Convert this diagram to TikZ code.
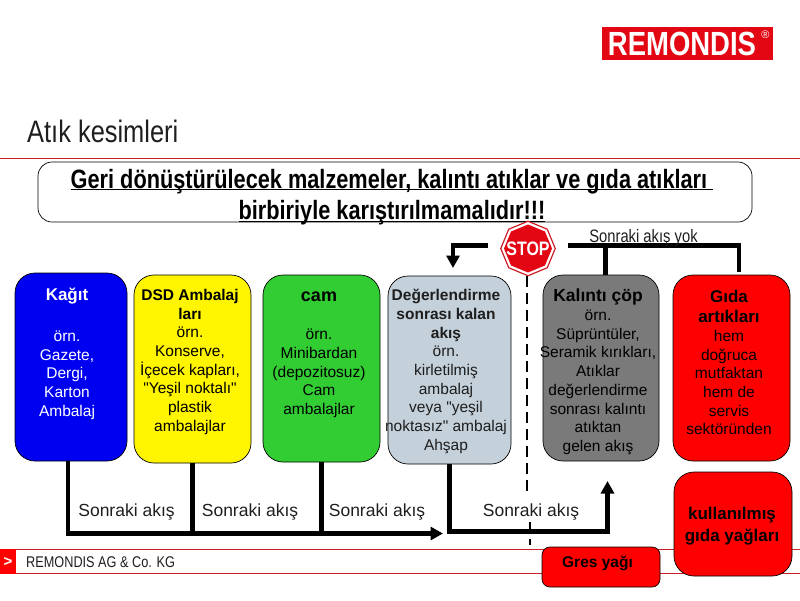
\documentclass[tikz,border=0pt]{standalone}
\usepackage{fontspec}
\setmainfont{Liberation Sans}[Ligatures=TeXOff]
\newfontfamily\narrowfont[FakeStretch=0.82]{Liberation Sans}
\usetikzlibrary{arrows.meta,shapes.geometric}
\definecolor{remRed}{RGB}{227,6,19}
\definecolor{lineRed}{RGB}{205,30,40}
\definecolor{boxBlue}{RGB}{0,0,240}
\definecolor{boxYellow}{RGB}{255,245,0}
\definecolor{boxGreen}{RGB}{50,205,50}
\definecolor{boxSlate}{RGB}{196,208,218}
\definecolor{boxGrey}{RGB}{122,122,122}
\definecolor{boxRed}{RGB}{255,0,0}
\definecolor{textDark}{RGB}{30,30,30}
\newcommand{\headfont}[1]{\bfseries\fontsize{#1}{18.7}\selectfont}

\begin{document}
\begin{tikzpicture}
[x=1pt,y=-1pt,
  wasteBox/.style={shape=rectangle,rounded corners=20pt,draw=black,line width=0.7pt,inner sep=0pt},
  boxText/.style={anchor=north,align=center,inner sep=0pt,font=\fontsize{15.5}{18.7}\selectfont},
  flowLine/.style={-,line width=4.6pt,black},
  flowArrow/.style={flowLine,-{Triangle[length=12.5pt,width=13pt]}},
  flowLabel/.style={font=\fontsize{17.5}{18}\selectfont,text=textDark}]
\useasboundingbox (0,0) rectangle (800,600);
%% page furniture
\node (logo) at (687.5,43.5) [fill=remRed,minimum width=171pt,minimum height=33pt,inner sep=0pt] {};
\node (logoText) at (682,44) [text=white,font=\narrowfont\bfseries\fontsize{33.5}{33.5}\selectfont] {REMONDIS};
\node (logoMark) at (765.5,35) [text=white,font=\fontsize{11}{11}\selectfont] {®};
\node (title) at (27,131.5) [anchor=west,inner sep=0pt,text=textDark,font=\narrowfont\fontsize{31}{32}\selectfont] {Atık kesimleri};
\draw[lineRed,line width=1.6pt] (0,158.5) -- (800,158.5);
\draw[lineRed,line width=0.7pt] (16,549) -- (800,549);
\draw[lineRed,line width=0.7pt] (16,573.5) -- (800,573.5);
\node (marker) at (8,561.5) [fill=boxRed,minimum width=16pt,minimum height=25pt,inner sep=0pt,text=white,font=\bfseries\fontsize{15}{15}\selectfont] {>};
\node (company) at (26,562.5) [anchor=west,inner sep=0pt,text=textDark,font=\narrowfont\fontsize{15.5}{15.5}\selectfont] {REMONDIS AG \& Co. KG};
%% warning banner
\node (banner) at (395,192) [wasteBox,rounded corners=14pt,minimum width=714pt,minimum height=60pt] {};
\node (bannerText) at (392,205) [align=center,inner sep=0pt,text=black,font=\narrowfont\bfseries\fontsize{26.5}{31.5}\selectfont]
  {\underline{\smash{Geri dönüştürülecek malzemeler, kalıntı atıklar ve gıda atıkları\ }}\\\underline{\smash{birbiriyle karıştırılmamalıdır!!!}}};
%% waste boxes
\foreach \nodename/\x/\y/\w/\h/\corner/\fillcolor/\textcolor/\tx/\top/\boxcontent in {
  kagit/71/367/112/188/20/boxBlue/white/67/288/{\headfont{17}Kağıt\\[22pt]örn.\\Gazete,\\Dergi,\\ Karton\\Ambalaj},
  dsd/192.5/369/117/188/20/boxYellow/black/190/289/{\headfont{15.5}DSD Ambalaj\\\headfont{15.5}ları\\örn.\\Konserve,\\İçecek kapları,\\"Yeşil noktalı"\\plastik\\ambalajlar},
  cam/321.5/368.5/117/187/20/boxGreen/black/319/292/{\headfont{18}cam\\[19pt]örn.\\Minibardan\\(depozitosuz)\\Cam\\ambalajlar},
  deger/449.5/370/123/188/20/boxSlate/textDark/446/289/{\headfont{15.5}Değerlendirme\\\headfont{15.5}sonrası kalan\\\headfont{15.5}akış\\örn.\\kirletilmiş\\ambalaj\\veya "yeşil\\noktasız" ambalaj\\Ahşap},
  kalinti/601/368/116/186/20/boxGrey/black/598/289/{\headfont{17.5}Kalıntı çöp\\örn.\\Süprüntüler,\\Seramik kırıkları,\\Atıklar\\değerlendirme\\sonrası kalıntı\\atıktan\\gelen akış},
  gida/731.5/368/117/186/20/boxRed/black/729/289.5/{\headfont{17}Gıda\\[2pt]\headfont{17}artıkları\\hem\\doğruca\\mutfaktan\\hem de\\servis\\sektöründen},
  used/733/524/118/104/20/boxRed/black/732/507/{\headfont{17}kullanılmış\\[3.3pt]\headfont{17}gıda yağları},
  gres/601/567/118/40/8/boxRed/black/597.5/556/{\headfont{15.5}Gres yağı}}
{
  \node (\nodename) at (\x,\y) [wasteBox,rounded corners=\corner pt,fill=\fillcolor,minimum width=\w pt,minimum height=\h pt] {};
  \node (\nodename Text) at (\tx,\top) [boxText,text=\textcolor] {\boxcontent};
}
%% stop sign
\node (stop) at (528,248.5) [shape=regular polygon,regular polygon sides=8,shape border rotate=22.5,minimum size=54.5pt,inner sep=0pt,fill=white,draw=lineRed,line width=1.2pt] {};
\node (stopInner) at (528,248.5) [shape=regular polygon,regular polygon sides=8,shape border rotate=22.5,minimum size=48pt,inner sep=0pt,fill=remRed] {};
\node (stopText) at (528,249) [inner sep=0pt,text=white,font=\narrowfont\bfseries\fontsize{19.5}{20}\selectfont] {STOP};
%% flows
\coordinate (flowEnd) at (443,533.5);
\coordinate (restTurn) at (607.5,531.5);
\coordinate (restEnd) at (607.5,481);
\coordinate (backStart) at (488,245.5);
\coordinate (backEnd) at (453,268);
\coordinate (noFlowStart) at (568,245.5);
\coordinate (noFlowBranch) at (605.5,245.5);
\coordinate (noFlowEnd) at (739,272);
\coordinate (dashBreak) at (527,493);
\coordinate (dashResume) at (530,522);
\coordinate (dashEnd) at (530,545);
\draw[flowArrow] ([xshift=-3pt]kagit.south) |- (flowEnd);
\draw[flowLine] (dsd.south) -- (dsd.south |- flowEnd);
\draw[flowLine] (cam.south) -- (cam.south |- flowEnd);
\draw[flowArrow] (deger.south) |- (restTurn) -- (restEnd);
\draw[flowArrow] (backStart) -| (backEnd);
\draw[flowLine] (noFlowStart) -| (noFlowEnd);
\draw[flowLine] (noFlowBranch) -- (noFlowBranch |- kalinti.north);
\draw[black,line width=2pt,dash pattern=on 11pt off 6pt] (stop.south -| dashBreak) -- (dashBreak);
\draw[black,line width=2pt,dash pattern=on 11pt off 6pt] (dashResume) -- (dashEnd);
%% flow labels
\foreach \labelname/\x in {flowA/126.5, flowB/250, flowC/377, flowD/531}
{
  \node (\labelname) at (\x,512.5) [flowLabel] {Sonraki akış};
}
\node (noFlow) at (643.5,237.5) [text=textDark,font=\narrowfont\fontsize{18}{18}\selectfont] {Sonraki akış yok};
\end{tikzpicture}
\end{document}
